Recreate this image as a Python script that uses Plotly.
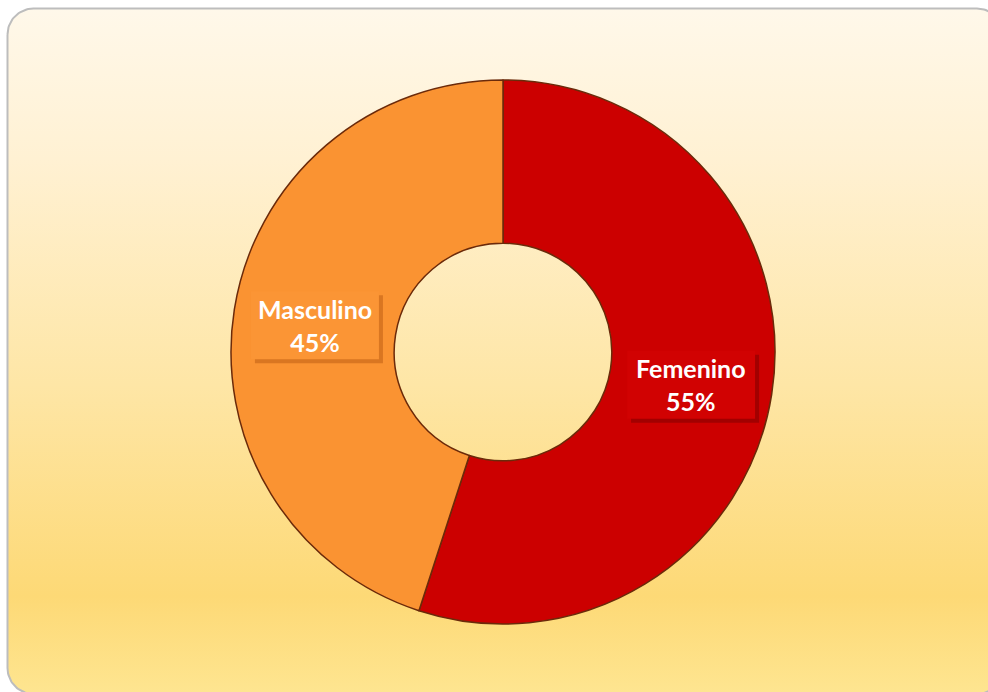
import numpy as np
import plotly.graph_objects as go

labels = ["Femenino", "Masculino"]
values = [55, 45]
colors = ["#CC0000", "#FA9332"]
box_colors = ["#D10202", "#FB9535"]
shadow_colors = ["rgba(120,0,0,0.5)", "rgba(190,95,20,0.55)"]

W, H = 988, 692
HOLE = 0.4
# pie domain in pixels
PX0, PX1, PY0, PY1 = 231, 775, 80, 624
BOX_W, BOX_H = 128, 68


def rounded_box(x0, y0, x1, y1, r, n=24):
    # corner arcs for a rounded rectangle, in pixel units
    xs, ys = [], []
    corners = [
        (x0 + r, y0 + r, 180, 270),
        (x1 - r, y0 + r, 270, 360),
        (x1 - r, y1 - r, 0, 90),
        (x0 + r, y1 - r, 90, 180),
    ]
    for cx, cy, a0, a1 in corners:
        t = np.radians(np.linspace(a0, a1, n))
        xs.extend(cx + r * np.cos(t))
        ys.extend(cy + r * np.sin(t))
    xs.append(xs[0])
    ys.append(ys[0])
    return xs, ys


bx, by = rounded_box(7.5, 8.5, 1003, 694, 26)

fig = go.Figure()

# background card with vertical gradient
fig.add_trace(
    go.Scatter(
        x=bx,
        y=by,
        mode="lines",
        fill="toself",
        line=dict(color="#BDBDBD", width=2),
        fillgradient=dict(
            type="vertical",
            colorscale=[
                [0.0, "#FEE590"],
                [0.14, "#FDD976"],
                [0.45, "#FEE6A6"],
                [0.78, "#FFF1D3"],
                [1.0, "#FFF8EA"],
            ],
            start=692,
            stop=8,
        ),
        hoverinfo="skip",
        showlegend=False,
    )
)

fig.add_trace(
    go.Pie(
        labels=labels,
        values=values,
        hole=HOLE,
        sort=False,
        direction="clockwise",
        rotation=0,
        marker=dict(colors=colors, line=dict(color="#6B2A0A", width=1.5)),
        textinfo="none",
        domain=dict(x=[PX0 / W, PX1 / W], y=[1 - PY1 / H, 1 - PY0 / H]),
        showlegend=False,
    )
)

# data labels in boxes, placed at the middle of each slice
cx, cy = (PX0 + PX1) / 2, (PY0 + PY1) / 2
r_mid = (PX1 - PX0) / 2 * (1 + HOLE) / 2
total = sum(values)
cum = 0
for lab, val, bc, sc in zip(labels, values, box_colors, shadow_colors):
    mid = (cum + val / 2) / total * 2 * np.pi
    cum += val
    lx = cx + r_mid * np.sin(mid)
    ly = cy - r_mid * np.cos(mid) + 3
    fig.add_shape(
        type="rect", xref="x", yref="y",
        x0=lx - BOX_W / 2 + 4, x1=lx + BOX_W / 2 + 4,
        y0=ly - BOX_H / 2 + 4, y1=ly + BOX_H / 2 + 4,
        fillcolor=sc, line_width=0, layer="above",
    )
    fig.add_shape(
        type="rect", xref="x", yref="y",
        x0=lx - BOX_W / 2, x1=lx + BOX_W / 2,
        y0=ly - BOX_H / 2, y1=ly + BOX_H / 2,
        fillcolor=bc, line_width=0, layer="above",
    )
    fig.add_annotation(
        x=lx, y=ly, xref="x", yref="y",
        text=f"<b>{lab}</b><br><b>{val / total:.0%}</b>",
        showarrow=False,
        font=dict(family="Lato", size=25, color="white"),
    )

fig.update_layout(
    width=W,
    height=H,
    margin=dict(l=0, r=0, t=0, b=0),
    paper_bgcolor="white",
    plot_bgcolor="rgba(0,0,0,0)",
    xaxis=dict(range=[0, W], visible=False, fixedrange=True),
    yaxis=dict(range=[H, 0], visible=False, fixedrange=True),
)

fig.write_html(
    "out.html",
    config={"displayModeBar": False},
    post_script="document.body.style.margin='0';",
)
